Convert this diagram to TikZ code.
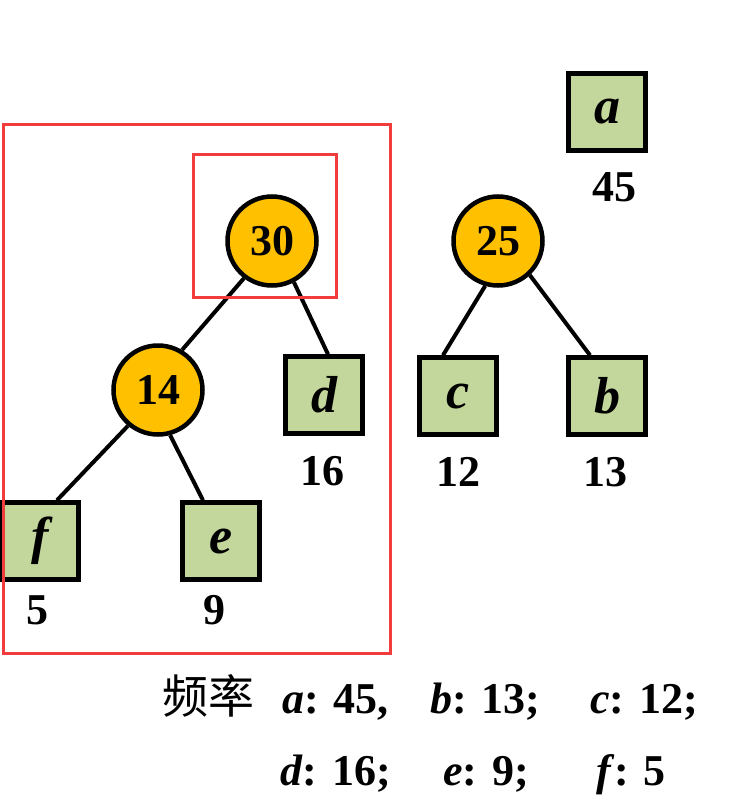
\documentclass[tikz,border=0pt]{standalone}
\usepackage{fontspec}
\setmainfont{Liberation Serif}
\newfontfamily\cjk{Noto Sans CJK SC}
\definecolor{orangec}{RGB}{255,192,0}
\definecolor{greenc}{RGB}{195,214,155}
\definecolor{redc}{RGB}{240,60,60}
\newcommand\bigfont{\fontsize{44}{44}\selectfont\bfseries}
\newcommand\letfont{\fontsize{52}{52}\selectfont\bfseries\itshape}
\begin{document}
\begin{tikzpicture}[x=1pt,y=-1pt,
  circ/.style={circle, draw=black, line width=4.5pt, fill=orangec, minimum size=89pt, inner sep=0pt, font=\bigfont},
  sq/.style={rectangle, draw=black, line width=4.5pt, fill=greenc, minimum size=77pt, inner sep=0pt, font=\letfont},
  lbl/.style={font=\bigfont, inner sep=0pt},
  txt/.style={font=\bigfont, inner sep=0pt, anchor=base west},
  edge/.style={line width=4pt, black},
  redbox/.style={draw=redc, line width=3pt}]
\useasboundingbox (0,0) rectangle (742,811);
\node[circ] (n30) at (272,241) {30};
\node[circ] (n25) at (498,241) {25};
\node[circ] (n14) at (158,390) {14};
\node[sq] (a) at (607,112) {a};
\node[sq] (d) at (324,395) {d};
\node[sq] (c) at (458,396) {c};
\node[sq] (b) at (607,396) {b};
\node[sq] (f) at (40,541) {f};
\node[sq] (e) at (221,541) {e};
\node[lbl] (la) at (614,187) {45};
\node[lbl] (ld) at (322,471) {16};
\node[lbl] (lc) at (458,472) {12};
\node[lbl] (lb) at (605,472) {13};
\node[lbl] (lf) at (37,610) {5};
\node[lbl] (le) at (214,610) {9};
\draw[edge] (n30.233) -- (n14.59);
\draw[edge] (n30.298) -- ([xshift=4pt]d.north);
\draw[edge] (n25.254) -- ([xshift=-15pt]c.north);
\draw[edge] (n25.313) -- ([xshift=-17pt]b.north);
\draw[edge] (n14.230) -- ([xshift=17pt]f.north);
\draw[edge] (n14.285) -- ([xshift=-18pt]e.north);
\draw[redbox] (3,124) rectangle (390,653);
\draw[redbox] (193,154) rectangle (336,297);
\node[anchor=base west, inner sep=0pt, font=\cjk\fontsize{46}{46}\selectfont] (freq) at (162,713) {频率};
\node[txt] (fa) at (282,713) {\textit{a}: 45,};
\node[txt] (fb) at (430,713) {\textit{b}: 13;};
\node[txt] (fc) at (590,713) {\textit{c}: 12;};
\node[txt] (fd) at (280,785) {\textit{d}: 16;};
\node[txt] (fe) at (443,785) {\textit{e}: 9;};
\node[txt] (ff) at (596,785) {\textit{f}: 5};
\end{tikzpicture}
\end{document}
